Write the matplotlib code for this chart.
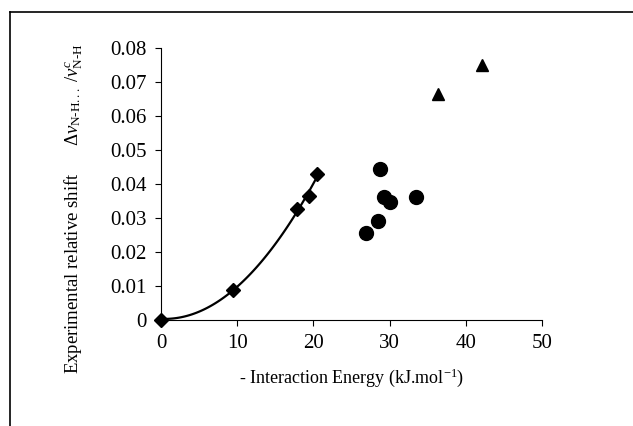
import numpy as np
import matplotlib
matplotlib.use("Agg")
import matplotlib.pyplot as plt
from matplotlib.lines import Line2D

plt.rcParams['font.family'] = ['Liberation Serif', 'DejaVu Serif']
plt.rcParams['mathtext.fontset'] = 'custom'
plt.rcParams['mathtext.rm'] = 'Liberation Serif'
plt.rcParams['mathtext.it'] = 'Liberation Serif:italic'

# diamonds (fitted series)
diamond_x = [0.0, 9.5, 17.9, 19.4, 20.5]
diamond_y = [0.0, 0.0088, 0.0326, 0.0366, 0.0428]
# circles
circle_x = [26.9, 28.5, 28.7, 29.2, 30.0, 33.4]
circle_y = [0.0257, 0.0292, 0.0444, 0.0363, 0.0348, 0.0363]
# triangles
tri_x = [36.4, 42.1]
tri_y = [0.0666, 0.0750]

x_ticks = [0, 10, 20, 30, 40, 50]
y_ticks = [0, 0.01, 0.02, 0.03, 0.04, 0.05, 0.06, 0.07, 0.08]
y_tick_labels = ['0', '0.01', '0.02', '0.03', '0.04', '0.05', '0.06', '0.07', '0.08']

fig = plt.figure(figsize=(6.33, 4.26), dpi=100)
ax = fig.add_axes([161 / 633, (426 - 320) / 426, 381 / 633, 272 / 426])

# quadratic trendline through the non-zero diamonds, floored at 0
coef = np.polyfit(diamond_x[1:], diamond_y[1:], 2)
xs = np.linspace(0, max(diamond_x), 100)
ys = np.clip(np.polyval(coef, xs), 0, None)
ax.plot(xs, ys, color='black', lw=1.6, zorder=2)

ax.plot(diamond_x, diamond_y, 'D', color='black', ms=7.5, clip_on=False, zorder=3)
ax.plot(circle_x, circle_y, 'o', color='black', ms=10, zorder=3)
ax.plot(tri_x, tri_y, '^', color='black', ms=9, zorder=3)

ax.set_xlim(0, 50)
ax.set_ylim(0, 0.08)
ax.set_xticks(x_ticks)
ax.set_yticks(y_ticks)
ax.set_yticklabels(y_tick_labels)
ax.tick_params(direction='out', length=4, width=0.8, labelsize=15, pad=6)
ax.spines['top'].set_visible(False)
ax.spines['right'].set_visible(False)

ax.set_xlabel('- Interaction Energy (kJ.mol$^{\\mathrm{-1}}$)', fontsize=13, labelpad=10)
ax.set_ylabel('Experimental relative shift      '
              r'$\Delta\nu_{\mathrm{N\text{-}H...}}\ /\nu^{c}_{\mathrm{N\text{-}H}}$',
              fontsize=13.5)
ax.yaxis.set_label_coords(-0.20, 0.41)

# outer frame (top and left edges only)
fig.add_artist(Line2D([10 / 633, 1], [1 - 12 / 426, 1 - 12 / 426],
                      transform=fig.transFigure, color='black', lw=1.2))
fig.add_artist(Line2D([10 / 633, 10 / 633], [0, 1 - 12 / 426],
                      transform=fig.transFigure, color='black', lw=1.2))

fig.savefig('out.png', dpi=100)
